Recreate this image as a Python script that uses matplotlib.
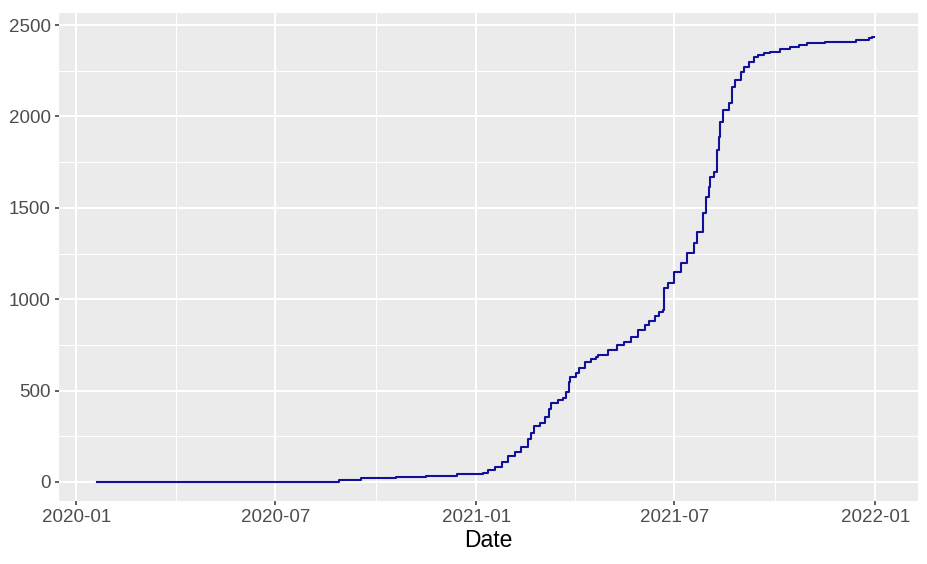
import numpy as np
import pandas as pd
import matplotlib
matplotlib.use("Agg")
from matplotlib import pyplot as plt
import matplotlib.dates as mdates

plt.rcParams['font.family'] = ['Liberation Sans', 'DejaVu Sans']

# cumulative count (step chart)
dates = ["2020-01-20", "2020-08-28", "2020-09-17", "2020-10-19", "2020-11-16",
         "2020-12-14", "2021-01-07", "2021-01-12", "2021-01-18", "2021-01-24",
         "2021-01-30", "2021-02-05", "2021-02-11", "2021-02-17", "2021-02-20",
         "2021-02-23", "2021-02-28", "2021-03-05", "2021-03-08", "2021-03-10",
         "2021-03-17", "2021-03-21", "2021-03-24", "2021-03-27", "2021-03-28",
         "2021-04-02", "2021-04-05", "2021-04-10", "2021-04-16", "2021-04-20",
         "2021-04-22", "2021-05-01", "2021-05-10", "2021-05-16", "2021-05-22",
         "2021-05-29", "2021-06-04", "2021-06-08", "2021-06-13", "2021-06-17",
         "2021-06-21", "2021-06-22", "2021-06-25", "2021-07-01", "2021-07-07",
         "2021-07-13", "2021-07-19", "2021-07-22", "2021-07-27", "2021-07-30",
         "2021-08-02", "2021-08-03", "2021-08-06", "2021-08-09", "2021-08-11",
         "2021-08-12", "2021-08-15", "2021-08-20", "2021-08-23", "2021-08-26",
         "2021-08-31", "2021-09-03", "2021-09-07", "2021-09-12", "2021-09-16",
         "2021-09-21", "2021-09-27", "2021-10-06", "2021-10-15", "2021-10-23",
         "2021-10-30", "2021-11-16", "2021-12-14", "2021-12-26", "2021-12-29",
         "2021-12-31"]
counts = [0, 10, 20, 27, 33,
          42, 51, 66, 84, 111,
          142, 166, 193, 235, 268,
          306, 323, 357, 399, 432,
          449, 460, 494, 549, 576,
          596, 624, 658, 673, 685,
          695, 722, 749, 767, 795,
          831, 859, 882, 908, 932,
          941, 1060, 1087, 1150, 1198,
          1253, 1306, 1369, 1470, 1561,
          1615, 1670, 1697, 1816, 1889,
          1971, 2035, 2072, 2162, 2199,
          2245, 2270, 2299, 2327, 2336,
          2345, 2353, 2369, 2381, 2391,
          2400, 2409, 2418, 2427, 2436,
          2436]

x_ticks = ["2020-01-01", "2020-07-01", "2021-01-01", "2021-07-01", "2022-01-01"]
x_minor = ["2020-04-01", "2020-10-01", "2021-04-01", "2021-10-01"]
y_ticks = [0, 500, 1000, 1500, 2000, 2500]

d = pd.to_datetime(dates)

fig = plt.figure(figsize=(9.27, 5.64), dpi=100)
ax = fig.add_axes([0.0636, 0.1117, 0.9267, 0.8653])
ax.set_facecolor('#EBEBEB')
for s in ax.spines.values():
    s.set_visible(False)

ax.step(d, counts, where='post', color='#10109A', lw=1.5, zorder=3)

ax.set_xlim(pd.Timestamp("2019-12-16"), pd.Timestamp("2022-02-09"))
ax.set_ylim(-104, 2566)
ax.set_xticks(pd.to_datetime(x_ticks))
ax.set_xticks(pd.to_datetime(x_minor), minor=True)
ax.xaxis.set_major_formatter(mdates.DateFormatter("%Y-%m"))
ax.set_yticks(y_ticks)
ax.set_yticks(np.arange(250, 2500, 500), minor=True)

ax.grid(which='major', color='white', lw=1.45)
ax.grid(which='minor', color='white', lw=0.75)
ax.set_axisbelow(True)
ax.tick_params(which='major', length=3, width=1.1, color='#333333',
               labelcolor='#4D4D4D', labelsize=13.5, pad=3)
ax.tick_params(which='minor', length=0)

ax.set_xlabel("Date", fontsize=16.5, color='black', labelpad=2)

fig.savefig("out.png", dpi=100)
